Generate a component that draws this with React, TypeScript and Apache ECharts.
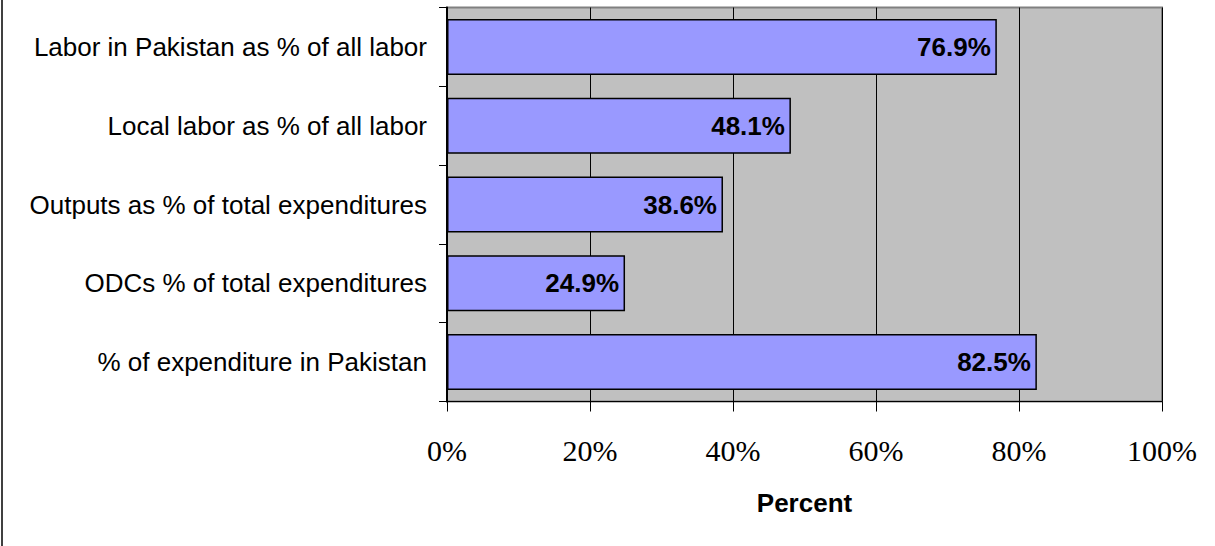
import React, { useEffect, useRef } from "react";
import * as echarts from "echarts";

const categories = [
  "Labor in Pakistan as % of all labor",
  "Local labor as % of all labor",
  "Outputs as % of total expenditures",
  "ODCs % of total expenditures",
  "% of expenditure in Pakistan",
];
const values = [76.9, 48.1, 38.6, 24.9, 82.5];
const xTicks = [0, 20, 40, 60, 80, 100];
const axisTitle = "Percent";

export default function App() {
  const ref = useRef<HTMLDivElement>(null);
  useEffect(() => {
    if (!ref.current) return;
    const chart = echarts.init(ref.current, null, { renderer: "svg" });
    chart.setOption({
      animation: false,
      backgroundColor: "#ffffff",
      grid: {
        left: 447,
        right: 53,
        top: 7.5,
        height: 394,
        show: true,
        backgroundColor: "#C0C0C0",
        borderColor: "#808080",
        borderWidth: 2,
      },
      xAxis: {
        type: "value",
        min: xTicks[0],
        max: xTicks[xTicks.length - 1],
        interval: 20,
        name: axisTitle,
        nameLocation: "middle",
        nameGap: 88,
        nameTextStyle: {
          fontFamily: "Liberation Sans, Arial, sans-serif",
          fontWeight: "bold",
          fontSize: 26,
          color: "#000",
        },
        axisLine: { show: true, lineStyle: { color: "#000", width: 1 } },
        axisTick: { show: true, length: 10, lineStyle: { color: "#000" } },
        axisLabel: {
          formatter: (v: number) => v + "%",
          fontFamily: "Liberation Serif, Times New Roman, serif",
          fontSize: 30,
          lineHeight: 30,
          color: "#000",
          margin: 34,
        },
        splitLine: { show: true, lineStyle: { color: "#000", width: 1 } },
      },
      yAxis: {
        type: "category",
        data: categories,
        inverse: true,
        axisLine: { show: true, lineStyle: { color: "#000", width: 2 } },
        axisTick: { show: true, length: 8, lineStyle: { color: "#000" } },
        axisLabel: {
          fontFamily: "Liberation Sans, Arial, sans-serif",
          fontSize: 26,
          color: "#000",
          margin: 20,
        },
      },
      series: [
        {
          type: "bar",
          data: values,
          barWidth: 56,
          itemStyle: { color: "#9999FF", borderColor: "#000", borderWidth: 1.5 },
          label: {
            show: true,
            position: "insideRight",
            distance: 6,
            formatter: (p: any) => p.value.toFixed(1) + "%",
            fontFamily: "Liberation Sans, Arial, sans-serif",
            fontWeight: "bold",
            fontSize: 26,
            color: "#000",
          },
        },
      ],
      graphic: [
        {
          type: "line",
          shape: { x1: 2, y1: 0, x2: 2, y2: 546 },
          style: { stroke: "#404040", lineWidth: 2 },
        },
      ],
    });
    return () => chart.dispose();
  }, []);
  return (
    <div
      ref={ref}
      style={{ position: "fixed", left: 0, top: 0, width: 1215, height: 546 }}
    />
  );
}
